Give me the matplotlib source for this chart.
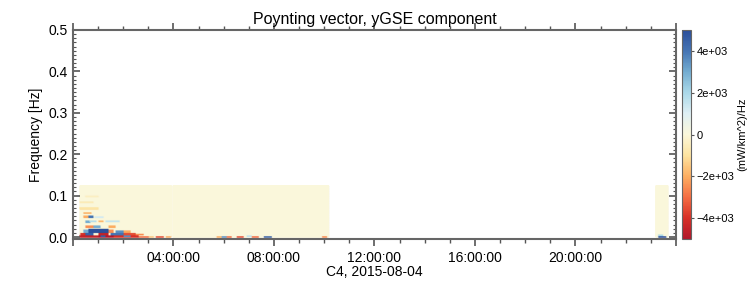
import numpy as np
import matplotlib
matplotlib.use('Agg')
import matplotlib.pyplot as plt
from matplotlib.colors import LinearSegmentedColormap
from matplotlib.ticker import MultipleLocator, FuncFormatter

plt.rcParams['font.family'] = ['Liberation Sans', 'DejaVu Sans']

# data segments (hours of day) and frequency coverage
seg_start = [0.28, 3.98, 23.2]
seg_end = [3.94, 10.17, 23.7]
f_max = 0.125

# non-zero patches: t0, t1 [h], f0, f1 [Hz], value
patch_t0 = [0.28, 1.0, 1.6, 2.6, 3.0, 3.3, 3.7, 1.1, 2.0,
            0.3, 0.5, 1.0, 1.5, 2.0, 2.5,
            0.4, 0.6, 1.4, 1.7, 2.0,
            0.5, 0.8, 1.4,
            0.5, 0.65, 1.0, 1.3,
            0.4, 0.6, 0.85,
            0.4, 0.28, 0.28, 0.5,
            5.7, 5.9, 6.1, 6.5, 6.9, 7.1, 7.6, 9.9,
            23.3, 23.3]
patch_t1 = [1.0, 1.6, 2.6, 3.0, 3.2, 3.6, 3.9, 1.3, 2.3,
            0.5, 0.8, 1.4, 2.0, 2.5, 2.8,
            0.6, 1.4, 1.6, 2.0, 2.3,
            0.8, 1.1, 1.7,
            0.7, 0.95, 1.2, 1.85,
            0.6, 0.8, 1.2,
            0.75, 1.0, 0.8, 1.0,
            5.9, 6.1, 6.3, 6.8, 7.1, 7.4, 7.9, 10.1,
            23.6, 23.5]
patch_f0 = [0.0, 0.0, 0.0, 0.0, 0.0, 0.0, 0.0, 0.002, 0.002,
            0.006, 0.006, 0.006, 0.006, 0.006, 0.005,
            0.012, 0.012, 0.012, 0.012, 0.012,
            0.024, 0.024, 0.024,
            0.036, 0.038, 0.038, 0.038,
            0.048, 0.048, 0.048,
            0.058, 0.068, 0.084, 0.098,
            0.0, 0.0, 0.0, 0.0, 0.002, 0.0, 0.0, 0.0,
            0.0, 0.004]
patch_f1 = [0.006, 0.006, 0.005, 0.004, 0.003, 0.004, 0.003, 0.006, 0.006,
            0.012, 0.012, 0.012, 0.012, 0.012, 0.010,
            0.020, 0.022, 0.020, 0.018, 0.018,
            0.030, 0.030, 0.030,
            0.042, 0.042, 0.042, 0.042,
            0.054, 0.054, 0.052,
            0.062, 0.074, 0.088, 0.102,
            0.004, 0.004, 0.004, 0.004, 0.005, 0.004, 0.004, 0.003,
            0.004, 0.008]
patch_val = [-4500, -5000, -4000, -3000, -1500, -3500, -2000, 4500, 3500,
             -4000, 4500, -4500, 4000, -3500, -2500,
             3000, 5000, -2500, 3500, -2000,
             -2500, 3000, -2000,
             3000, 1800, -1800, 1500,
             -2000, 4000, 1200,
             -1800, -900, -600, -400,
             -2000, 3500, -3000, -3500, 1500, -3000, 4500, -2500,
             5000, 2000]

# RdYlBu-like map with a paler centre
cmap = LinearSegmentedColormap.from_list('rdylbu_pale', [
    '#b2182b', '#d73027', '#f46d43', '#fdae61', '#fde3a0', '#fbf7da',
    '#dff0f5', '#abd9e9', '#74add1', '#4575b4', '#2c4f9a'])

fig = plt.figure(figsize=(7.5, 3), dpi=100)
ax = fig.add_axes([0.0973, 0.203, 0.804, 0.697])
cax = fig.add_axes([0.909, 0.203, 0.012, 0.697])

dt, df = 0.04, 0.002
mesh = None
for t_a, t_b in zip(seg_start, seg_end):
    t = np.arange(t_a, t_b + dt / 2, dt)
    f = np.arange(0.0, f_max + df / 2, df)
    T, F = np.meshgrid(t, f)
    Z = np.zeros_like(T)
    for t0, t1, f0, f1, v in zip(patch_t0, patch_t1, patch_f0, patch_f1, patch_val):
        Z[(T >= t0) & (T < t1) & (F >= f0) & (F < f1)] = v
    mesh = ax.pcolormesh(T, F, Z, cmap=cmap, vmin=-5000, vmax=5000,
                         shading='gouraud', rasterized=True)

ax.set_xlim(0, 24)
ax.set_ylim(-0.005, 0.5)
ax.xaxis.set_major_locator(MultipleLocator(4))
ax.xaxis.set_minor_locator(MultipleLocator(1))
ax.xaxis.set_major_formatter(FuncFormatter(
    lambda x, p: '' if x <= 0 or x >= 24 else '%02d:00:00' % int(round(x))))
ax.yaxis.set_major_locator(MultipleLocator(0.1))
ax.yaxis.set_minor_locator(MultipleLocator(0.01))
ax.yaxis.set_major_formatter(FuncFormatter(lambda y, p: '%.1f' % y))

ax.tick_params(axis='x', which='both', direction='out', top=True, bottom=True,
               colors='#555555', labelcolor='black', labelsize=10)
ax.tick_params(axis='x', which='major', length=5, width=1.2)
ax.tick_params(axis='x', which='minor', length=3, width=1)
ax.tick_params(axis='y', which='both', direction='in', left=True, right=True,
               colors='#555555', labelcolor='black', labelsize=10)
ax.tick_params(axis='y', which='major', length=5, width=1.2)
ax.tick_params(axis='y', which='minor', length=2.5, width=0.8)
for s in ax.spines.values():
    s.set_color('#666666')
    s.set_linewidth(1.5)

ax.set_title('Poynting vector, yGSE component', fontsize=11.5, pad=4)
ax.set_ylabel('Frequency [Hz]', fontsize=10, labelpad=4)
ax.set_xlabel('C4, 2015-08-04', fontsize=10, labelpad=0)

cb = fig.colorbar(mesh, cax=cax)
cb.set_ticks([-4000, -2000, 0, 2000, 4000])
cb.ax.yaxis.set_major_formatter(FuncFormatter(
    lambda v, p: '0' if v == 0 else ('%.0e' % v).replace('-', '\u2212')))
cb.ax.tick_params(labelsize=8, length=2.5, width=0.8, pad=1.5,
                  colors='#555555', labelcolor='black')
cb.outline.set_edgecolor('#666666')
cb.set_label('(mW/km^2)/Hz', fontsize=8, labelpad=2)

fig.savefig('out.png', dpi=100)
